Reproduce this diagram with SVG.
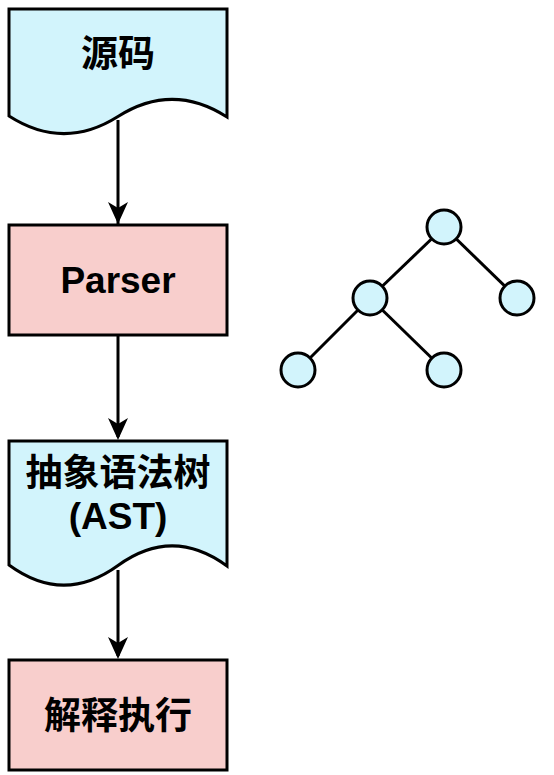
<svg xmlns="http://www.w3.org/2000/svg" width="554" height="775" viewBox="0 0 554 775">
<style>
.doc{fill:#d2f4fc;stroke:#000;stroke-width:3;stroke-linejoin:miter}
.proc{fill:#f8cecc;stroke:#000;stroke-width:3}
.node{fill:#d2f4fc;stroke:#000;stroke-width:3}
.edge{stroke:#000;stroke-width:3;fill:none}
.t{font-family:"Liberation Sans","Noto Sans CJK SC",Arial,sans-serif;font-weight:bold;font-size:37px;text-anchor:middle;fill:#000}
</style>
<defs>
<marker id="arr" markerUnits="userSpaceOnUse" markerWidth="24" markerHeight="26" viewBox="-12 -24 24 26" refX="0" refY="0" orient="auto-start-reverse">
<path d="M0,0 L-10,-22 L0,-16 L10,-22 Z" fill="#000" transform="rotate(-90)"/>
</marker>
</defs>
<g id="connectors">
<line class="edge" x1="118" y1="120" x2="118" y2="224" stroke="#000"/>
<path d="M118,224 L108,202 L118,208 L128,202 Z" fill="#000"/>
<line class="edge" x1="118" y1="335" x2="118" y2="437"/>
<path d="M118,440 L108,418 L118,424 L128,418 Z" fill="#000"/>
<line class="edge" x1="118" y1="570" x2="118" y2="656"/>
<path d="M118,659 L108,637 L118,643 L128,637 Z" fill="#000"/>
</g>
<g id="tree-edges">
<line class="edge" x1="444" y1="227" x2="370" y2="298"/>
<line class="edge" x1="444" y1="227" x2="517" y2="298"/>
<line class="edge" x1="370" y1="298" x2="298" y2="370"/>
<line class="edge" x1="370" y1="298" x2="444" y2="370"/>
</g>
<g id="source">
<path class="doc" d="M9,9 H227 V117 Q172.5,82 118,116.5 Q63.5,151 9,116 Z"/>
<text class="t" x="118" y="67">源码</text>
</g>
<g id="parser">
<rect class="proc" x="9" y="225" width="218" height="110"/>
<text class="t" x="118" y="293">Parser</text>
</g>
<g id="ast">
<path class="doc" d="M9,441 H227 V566 Q172.5,526 118,565.5 Q63.5,605 9,565 Z"/>
<text class="t" x="118" y="486">抽象语法树</text>
<text class="t" x="118" y="529">(AST)</text>
</g>
<g id="exec">
<rect class="proc" x="9" y="660" width="218" height="110"/>
<text class="t" x="118" y="729">解释执行</text>
</g>
<g id="tree-root"><circle class="node" cx="444" cy="227" r="17"/></g>
<g id="tree-left"><circle class="node" cx="370" cy="298" r="17"/></g>
<g id="tree-right"><circle class="node" cx="517" cy="298" r="17"/></g>
<g id="tree-ll"><circle class="node" cx="298" cy="370" r="17"/></g>
<g id="tree-lr"><circle class="node" cx="444" cy="370" r="17"/></g>
</svg>
